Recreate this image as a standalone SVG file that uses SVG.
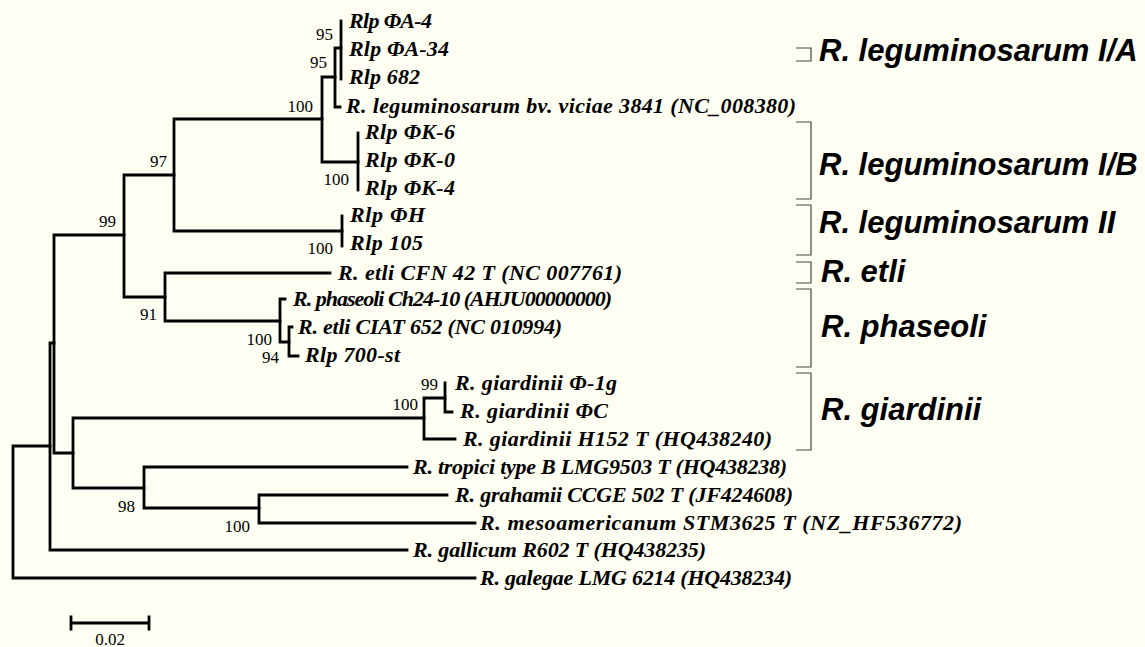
<svg xmlns="http://www.w3.org/2000/svg" width="1145" height="647" viewBox="0 0 1145 647">
<style>
.bg{fill:#FEFEF2}
.br{fill:none;stroke:#000;stroke-width:2.8;stroke-linecap:square}
.lf{font-family:"Liberation Serif","Times New Roman",serif;font-weight:bold;font-style:italic;font-size:22px;fill:#000}
.bs{font-family:"Liberation Serif","Times New Roman",serif;font-size:17px;fill:#000;text-anchor:end}
.cl{font-family:"Liberation Sans",Arial,sans-serif;font-weight:bold;font-style:italic;font-size:31px;fill:#000}
.bk{fill:none;stroke:#444;stroke-width:1.2}
</style>
<rect class="bg" x="0" y="0" width="1145" height="647"/>
<g id="connectors">
<path class="br" d="M13,446 V578 M13,578 H475 M13,446 H50"/>
<path class="br" d="M50,343 V550 M50,550 H407 M50,343 H54"/>
<path class="br" d="M54,235 V453 M54,235 H124 M54,453 H73"/>
<path class="br" d="M124,175 V297 M124,175 H174 M124,297 H165"/>
<path class="br" d="M174,119 V231 M174,119 H322 M174,231 H342"/>
<path class="br" d="M322,77 V162 M322,77 H335 M322,162 H358"/>
<path class="br" d="M335,48 V107 M335,48 H341 M335,107 H340"/>
<path class="br" d="M341,21 V79"/>
<path class="br" d="M358,133 V190"/>
<path class="br" d="M342,216 V246"/>
<path class="br" d="M165,273 V321 M165,273 H330 M165,321 H280"/>
<path class="br" d="M280,299 V342 M280,299 H285 M280,342 H289"/>
<path class="br" d="M289,327 V356 M289,327 H292 M289,356 H298"/>
<path class="br" d="M73,418 V488 M73,418 H424 M73,488 H144"/>
<path class="br" d="M424,398 V439 M424,398 H445 M424,439 H455"/>
<path class="br" d="M445,383 V412 M445,412 H452"/>
<path class="br" d="M144,467 V508 M144,467 H407 M144,508 H259"/>
<path class="br" d="M259,495 V523 M259,495 H447 M259,523 H475"/>
</g>
<g id="leaf-A4"><text class="lf" x="349" y="28" textLength="83">Rlp ΦA-4</text></g>
<g id="leaf-A34"><text class="lf" x="349" y="56" textLength="100">Rlp ΦA-34</text></g>
<g id="leaf-682"><text class="lf" x="349" y="84" textLength="71">Rlp 682</text></g>
<g id="leaf-3841"><text class="lf" x="346" y="113" textLength="450">R. leguminosarum bv. viciae 3841 (NC_008380)</text></g>
<g id="leaf-K6"><text class="lf" x="365" y="139" textLength="90">Rlp ΦK-6</text></g>
<g id="leaf-K0"><text class="lf" x="365" y="167" textLength="90">Rlp ΦK-0</text></g>
<g id="leaf-K4"><text class="lf" x="365" y="195" textLength="90">Rlp ΦK-4</text></g>
<g id="leaf-H"><text class="lf" x="350" y="222" textLength="75">Rlp ΦH</text></g>
<g id="leaf-105"><text class="lf" x="350" y="250" textLength="73">Rlp 105</text></g>
<g id="leaf-CFN42"><text class="lf" x="338" y="280" textLength="284">R. etli CFN 42 T (NC 007761)</text></g>
<g id="leaf-Ch24"><text class="lf" x="293" y="306" textLength="319">R. phaseoli Ch24-10 (AHJU00000000)</text></g>
<g id="leaf-CIAT"><text class="lf" x="298" y="334" textLength="264">R. etli CIAT 652 (NC 010994)</text></g>
<g id="leaf-700"><text class="lf" x="305" y="362" textLength="95">Rlp 700-st</text></g>
<g id="leaf-1g"><text class="lf" x="455" y="390" textLength="162">R. giardinii Φ-1g</text></g>
<g id="leaf-C"><text class="lf" x="460" y="418" textLength="148">R. giardinii ΦC</text></g>
<g id="leaf-H152"><text class="lf" x="463" y="446" textLength="309">R. giardinii H152 T (HQ438240)</text></g>
<g id="leaf-tropici"><text class="lf" x="413" y="474" textLength="374">R. tropici type B LMG9503 T (HQ438238)</text></g>
<g id="leaf-grahamii"><text class="lf" x="455" y="502" textLength="338">R. grahamii CCGE 502 T (JF424608)</text></g>
<g id="leaf-meso"><text class="lf" x="480" y="530" textLength="482">R. mesoamericanum STM3625 T (NZ_HF536772)</text></g>
<g id="leaf-gallicum"><text class="lf" x="413" y="557" textLength="293">R. gallicum R602 T (HQ438235)</text></g>
<g id="leaf-galegae"><text class="lf" x="480" y="585" textLength="312">R. galegae LMG 6214 (HQ438234)</text></g>
<g id="bootstrap">
<text class="bs" x="333" y="40">95</text>
<text class="bs" x="327" y="68">95</text>
<text class="bs" x="313" y="112">100</text>
<text class="bs" x="167" y="167">97</text>
<text class="bs" x="116" y="227">99</text>
<text class="bs" x="349" y="185">100</text>
<text class="bs" x="333" y="254">100</text>
<text class="bs" x="157" y="320">91</text>
<text class="bs" x="272" y="345">100</text>
<text class="bs" x="279" y="363">94</text>
<text class="bs" x="438" y="390">99</text>
<text class="bs" x="418" y="410">100</text>
<text class="bs" x="135" y="512">98</text>
<text class="bs" x="250" y="532">100</text>
</g>
<g id="clade-IA"><path class="bk" d="M796,48 H811 V61 H796"/><text class="cl" x="819" y="61">R. leguminosarum I/A</text></g>
<g id="clade-IB"><path class="bk" d="M796,122 H811 V199 H796"/><text class="cl" x="819" y="175">R. leguminosarum I/B</text></g>
<g id="clade-II"><path class="bk" d="M796,205 H811 V255 H796"/><text class="cl" x="819" y="233">R. leguminosarum II</text></g>
<g id="clade-etli"><path class="bk" d="M796,262 H811 V283 H796"/><text class="cl" x="821" y="282">R. etli</text></g>
<g id="clade-phaseoli"><path class="bk" d="M796,289 H811 V367 H796"/><text class="cl" x="821" y="337">R. phaseoli</text></g>
<g id="clade-giardinii"><path class="bk" d="M796,373 H811 V450 H796"/><text class="cl" x="821" y="420">R. giardinii</text></g>
<g id="scale">
<path class="br" d="M71,623 H149 M71,617 V629 M149,617 V629"/>
<text x="110" y="645" style="font-family:'Liberation Serif','Times New Roman',serif;font-size:17px;text-anchor:middle">0.02</text>
</g>
</svg>
